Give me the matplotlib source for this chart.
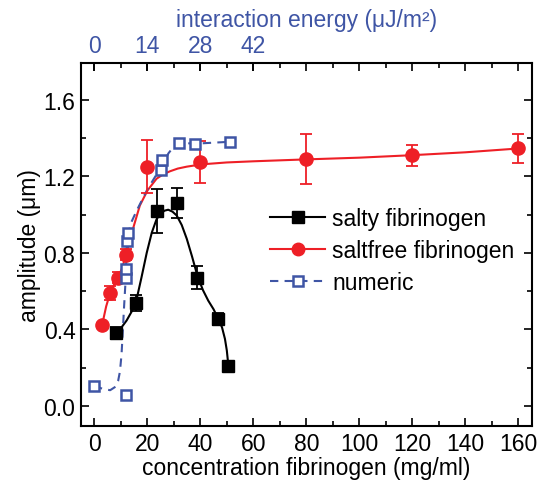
import matplotlib
matplotlib.use("Agg")
import matplotlib.pyplot as plt
from matplotlib.lines import Line2D
from matplotlib.ticker import MultipleLocator, FormatStrFormatter

plt.rcParams['font.family'] = ['Liberation Sans', 'DejaVu Sans']

# salty fibrinogen (black squares)
salty_x = [8.2, 15.7, 23.5, 31.1, 38.9, 46.8, 50.6]
salty_y = [0.38, 0.54, 1.02, 1.06, 0.67, 0.455, 0.21]
salty_err = [0.03, 0.042, 0.115, 0.08, 0.06, 0.03, 0.02]
# fitted curve
salty_fit_x = [8.2, 10.0, 12.2, 14.0, 15.7, 17.8, 19.8, 21.7, 23.5, 25.0, 26.5, 27.9, 29.5,
               31.1, 33.0, 34.9, 36.9, 38.9, 41.0, 43.0, 45.0, 46.8, 48.2, 49.3, 50.0, 50.6]
salty_fit_y = [0.38, 0.405, 0.446, 0.49, 0.54, 0.67, 0.80, 0.905, 0.975, 1.005, 1.02, 1.025, 1.015,
               0.995, 0.945, 0.873, 0.78, 0.68, 0.605, 0.55, 0.505, 0.455, 0.41, 0.35, 0.29, 0.21]

# saltfree fibrinogen (red circles)
free_x = [3, 6, 9, 12, 20, 40, 80, 120, 160]
free_y = [0.425, 0.59, 0.67, 0.79, 1.25, 1.275, 1.29, 1.31, 1.345]
free_err = [0.01, 0.035, 0.03, 0.03, 0.14, 0.11, 0.13, 0.055, 0.075]
free_fit_x = [3, 4.5, 6, 7.5, 9, 10.5, 12, 14.5, 17.2, 20.1, 23.5, 26, 28.6, 31.5, 34.9, 40.5,
              50, 60, 80, 100, 120, 140, 160]
free_fit_y = [0.425, 0.52, 0.59, 0.635, 0.67, 0.72, 0.79, 0.92, 1.047, 1.126, 1.187, 1.21, 1.226,
              1.24, 1.25, 1.262, 1.272, 1.278, 1.288, 1.297, 1.31, 1.325, 1.345]

# numeric (blue open squares, dashed)
num_x = [0, 11.8, 11.8, 11.8, 12.2, 12.6, 25.2, 25.4, 32, 38, 51.2]
num_y = [0.106, 0.057, 0.67, 0.716, 0.864, 0.905, 1.23, 1.283, 1.374, 1.37, 1.38]
num_line_x = [0, 3, 6, 8, 9.0, 9.7, 10.3, 10.8, 11.3, 11.8, 12.4, 14, 16, 20, 25.3, 28, 30, 32, 38, 51.2]
num_line_y = [0.106, 0.09, 0.082, 0.10, 0.13, 0.18, 0.27, 0.4, 0.53, 0.65, 0.88, 0.96, 1.02, 1.13,
              1.25, 1.32, 1.355, 1.375, 1.37, 1.38]

energy_ticks = [0, 14, 28, 42]

black = 'black'
red = '#ee1f26'
blue = '#3f55a5'
fs = 16.5

fig = plt.figure(figsize=(5.41, 4.89), dpi=100)
ax = fig.add_axes([0.1497, 0.1268, 0.8331, 0.7417])

# curves
ax.plot(salty_fit_x, salty_fit_y, color=black, lw=1.5, zorder=2)
ax.plot(free_fit_x, free_fit_y, color=red, lw=1.5, zorder=2)
ax.plot(num_line_x, num_line_y, color=blue, lw=1.5, ls=(0, (4, 3)), zorder=2)

# markers with error bars
ax.errorbar(salty_x, salty_y, yerr=salty_err, fmt='s', color=black, ms=8.5,
            capsize=4, elinewidth=1.3, capthick=1.3, zorder=4)
ax.errorbar(free_x, free_y, yerr=free_err, fmt='o', color=red, ms=9.5,
            capsize=4, elinewidth=1.3, capthick=1.3, zorder=3)
ax.plot(num_x, num_y, 's', ms=7, mfc='white', mec=blue, mew=1.8, ls='none', zorder=5)

ax.set_xlim(-5, 165)
ax.set_ylim(-0.105, 1.79)
ax.xaxis.set_major_locator(MultipleLocator(20))
ax.xaxis.set_minor_locator(MultipleLocator(10))
ax.yaxis.set_major_locator(MultipleLocator(0.4))
ax.yaxis.set_minor_locator(MultipleLocator(0.2))
ax.yaxis.set_major_formatter(FormatStrFormatter('%.1f'))
ax.tick_params(which='both', direction='in', top=True, right=True, width=1.2)
ax.tick_params(which='major', length=6, labelsize=fs, pad=4)
ax.tick_params(which='minor', length=3.5)
for s in ax.spines.values():
    s.set_linewidth(1.5)

ax.set_xlabel('concentration fibrinogen (mg/ml)', fontsize=fs, labelpad=1)
ax.set_ylabel('amplitude (μm)', fontsize=fs, labelpad=2)

# top axis: interaction energy
sec = ax.secondary_xaxis('top', functions=(lambda x: 0.7 * x, lambda x: x / 0.7))
sec.set_xticks(energy_ticks)
sec.tick_params(direction='in', length=6, width=1.2, labelsize=fs, labelcolor=blue, pad=4.5)
sec.spines['top'].set_visible(False)
sec.set_xlabel('interaction energy (μJ/m²)', fontsize=fs, color=blue, labelpad=5.5)

handles = [
    Line2D([], [], color=black, lw=1.5, marker='s', ms=8),
    Line2D([], [], color=red, lw=1.5, marker='o', ms=9),
    Line2D([], [], color=blue, lw=1.5, ls=(0, (4, 3)), marker='s', ms=7, mfc='white', mew=1.8),
]
ax.legend(handles, ['salty fibrinogen', 'saltfree fibrinogen', 'numeric'],
          loc='upper left', bbox_to_anchor=(0.42, 0.604), frameon=False, fontsize=fs,
          handlelength=2.4, handletextpad=0.3, labelspacing=0.4,
          borderpad=0, borderaxespad=0)

fig.savefig('out.png', dpi=100)
